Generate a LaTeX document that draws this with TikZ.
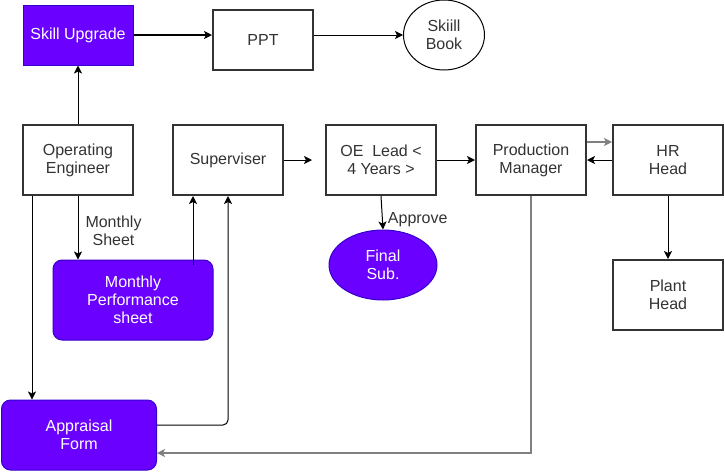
\documentclass[tikz,border=0pt]{standalone}
\usepackage{fontspec}
\setmainfont{Liberation Sans}
\usetikzlibrary{shapes.geometric,arrows.meta}
\definecolor{flowpurple}{RGB}{106, 0, 255}
\definecolor{flowpurpleline}{RGB}{55, 0, 204}
\definecolor{flowgrey}{RGB}{51, 51, 51}
\definecolor{linegrey}{RGB}{128, 128, 128}
\tikzstyle{flow} = [
  x=1pt,
  y=-1pt,
  line width=1pt,
  font=\fontsize{16}{18}\selectfont,
  >={Stealth[length=8pt,width=8pt,inset=2pt]},
  every node/.style={align=center, inner sep=0pt, text=flowgrey},
]
\tikzstyle{stepbox} = [
  draw=flowgrey, line width=2pt, fill=white,
  minimum width=110pt, minimum height=70pt,
]
\tikzstyle{purplebox} = [
  draw=flowpurpleline, fill=flowpurple, text=white, line width=1pt,
]

\begin{document}
\begin{tikzpicture}[flow]
            \useasboundingbox (0,0) rectangle (725,472);

            % Top row
            \node[purplebox, minimum width=110pt, minimum height=60pt] (skill) at (78,35) {Skill Upgrade};
            \node[stepbox, minimum width=100pt, minimum height=60pt] (ppt) at (263,40) {PPT};
            \node[ellipse, draw=black, line width=1pt, minimum width=81pt, minimum height=70pt] (book) at (444,35) {Skiill\\Book};

            % Middle row
            \node[stepbox] (openg) at (78,160) {Operating\\Engineer};
            \node[stepbox] (superv) at (228,160) {Superviser};
            \node[stepbox] (oelead) at (381,160) {OE~~Lead <\\ 4 Years >};
            \node[stepbox] (prodman) at (531,160) {Production\\Manager};
            \node[stepbox] (hrhead) at (668,160) {HR\\Head};
            \coordinate[xshift=-13pt] (gap) at (oelead.west);

            % Lower shapes
            \node[purplebox, ellipse, minimum width=108pt, minimum height=70pt] (final) at (383,265) {Final\\Sub.};
            \node[stepbox] (plant) at (668,295) {Plant\\Head};
            \node[purplebox, rounded corners=9pt, minimum width=160pt, minimum height=80pt] (sheet) at (133,300) {Monthly\\Performance\\sheet};
            \node[purplebox, rounded corners=9pt, minimum width=155pt, minimum height=70pt] (appraisal) at (79,435) {Appraisal\\Form};

            % Connectors
            \draw[->, line width=1.6pt] (skill.east) -- (skill.east -| ppt.west);
            \draw[->] (book.west -| ppt.east) -- (book.west);
            \draw[->] (openg.north) -- (skill.south);
            \draw[->] (superv.east) -- (gap);
            \draw[->] (oelead.east) -- (prodman.west);
            \draw[->, linegrey, line width=1.6pt] ([yshift=18pt]prodman.east) -- ([yshift=18pt]hrhead.west);
            \draw[->] (hrhead.west) -- (prodman.east);
            \draw[->] (hrhead.south) -- (plant.north);
            \draw[->] (oelead.south) -- (final.north)
              node[pos=0.72, right=5pt, anchor=west] (approve) {Approve};
            \draw[->] (openg.south) -- (openg.south |- sheet.north)
              node[pos=0.55, right=7pt, anchor=west] (msheet) {Monthly\\Sheet};
            \draw[->] ([xshift=10pt]openg.south west) -- ([xshift=10pt]openg.south west |- appraisal.north);
            \draw[->] ([xshift=-35pt, yshift=-5pt]superv.south |- sheet.north) -- ([xshift=-35pt]superv.south);
            \draw[->, rounded corners=5pt] ([yshift=10pt]appraisal.east) -| (superv.south);
            \draw[->, linegrey, line width=1.6pt] (prodman.south) |- ([yshift=-18pt]appraisal.east);
          \end{tikzpicture}
\end{document}
